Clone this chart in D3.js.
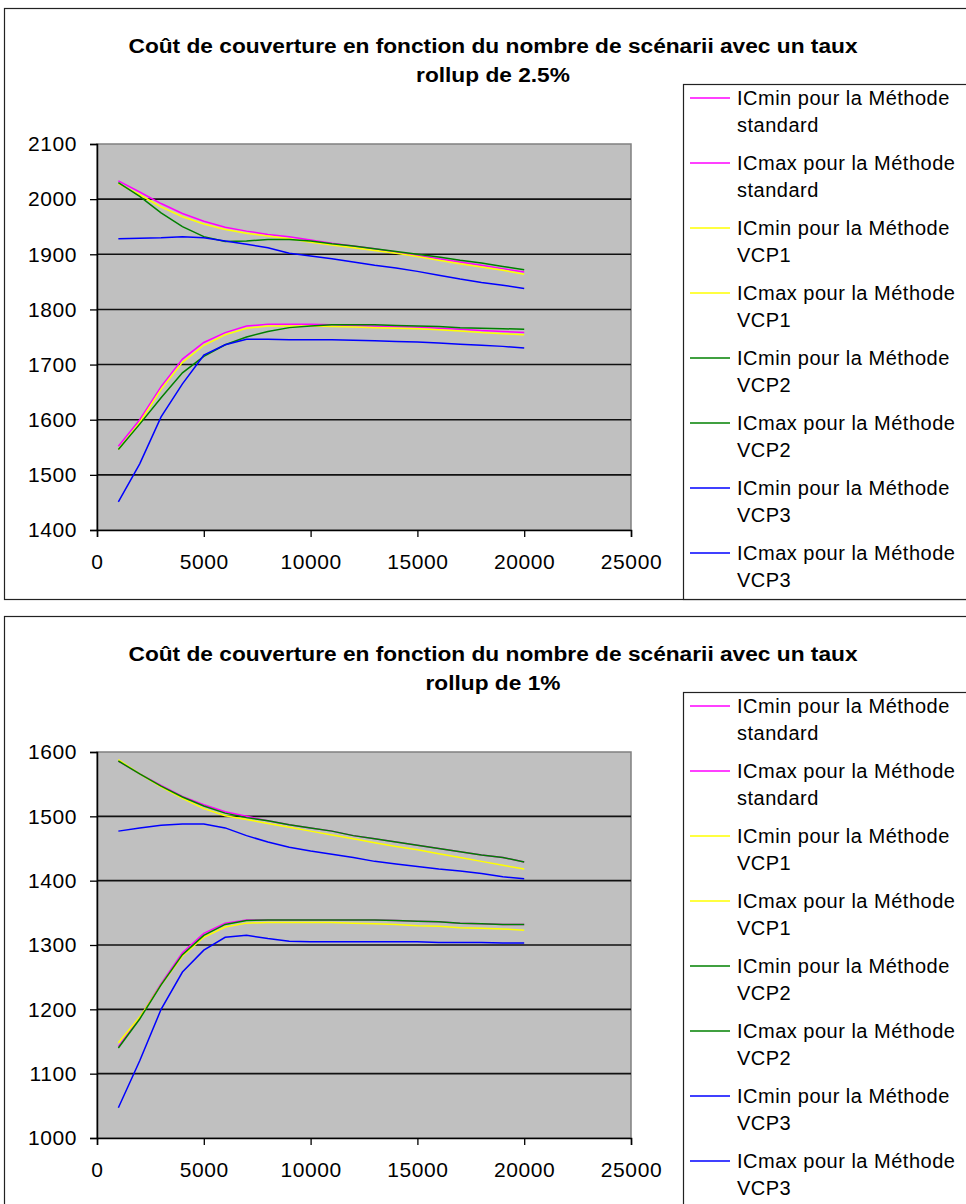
<!DOCTYPE html>
<html>
<head>
<meta charset="utf-8">
<script src="https://cdn.jsdelivr.net/npm/d3@7"></script>
<style>
  body { margin: 0; background: #fff; }
  text { font-family: "Liberation Sans", Arial, sans-serif; fill: #000; }
</style>
</head>
<body>
<svg id="chart" width="966" height="1204"></svg>
<script>
// x values (nombre de scénarii)
const scenarios = [1000, 2000, 3000, 4000, 5000, 6000, 7000, 8000, 9000, 10000,
                   11000, 12000, 13000, 14000, 15000, 16000, 17000, 18000, 19000, 20000];

const legendLabels = [
  ['ICmin pour la Méthode', 'standard'],
  ['ICmax pour la Méthode', 'standard'],
  ['ICmin pour la Méthode', 'VCP1'],
  ['ICmax pour la Méthode', 'VCP1'],
  ['ICmin pour la Méthode', 'VCP2'],
  ['ICmax pour la Méthode', 'VCP2'],
  ['ICmin pour la Méthode', 'VCP3'],
  ['ICmax pour la Méthode', 'VCP3']
];
const seriesColors = ['#ff00ff', '#ff00ff', '#ffff00', '#ffff00', '#008000', '#008000', '#0000ff', '#0000ff'];

const xTicks = [0, 5000, 10000, 15000, 20000, 25000];
const yTicksTop = [1400, 1500, 1600, 1700, 1800, 1900, 2000, 2100];
const yTicksBottom = [1000, 1100, 1200, 1300, 1400, 1500, 1600];

const titleTop = ['Coût de couverture en fonction du nombre de scénarii avec un taux', 'rollup de 2.5%'];
const titleBottom = ['Coût de couverture en fonction du nombre de scénarii avec un taux', 'rollup de 1%'];

// rollup 2.5%
const r25MinStd  = [1552, 1600, 1660, 1710, 1740, 1758, 1770, 1773, 1773, 1773, 1772, 1771, 1770, 1769, 1768, 1766, 1764, 1762, 1760, 1758];
const r25MaxStd  = [2033, 2013, 1992, 1974, 1960, 1949, 1942, 1936, 1932, 1926, 1920, 1915, 1910, 1904, 1898, 1892, 1886, 1880, 1874, 1868];
const r25MinVcp1 = [1546, 1595, 1655, 1704, 1735, 1754, 1766, 1770, 1770, 1770, 1769, 1768, 1767, 1766, 1765, 1763, 1761, 1758, 1756, 1754];
const r25MaxVcp1 = [2028, 2008, 1986, 1968, 1955, 1945, 1938, 1933, 1928, 1922, 1917, 1912, 1907, 1902, 1896, 1889, 1883, 1877, 1871, 1864];
const r25MinVcp2 = [1546, 1592, 1640, 1685, 1715, 1736, 1750, 1760, 1767, 1770, 1772, 1772, 1772, 1771, 1770, 1769, 1767, 1766, 1765, 1764];
const r25MaxVcp2 = [2030, 2005, 1975, 1950, 1932, 1923, 1924, 1927, 1927, 1924, 1919, 1915, 1910, 1905, 1900, 1895, 1889, 1884, 1878, 1872];
const r25MinVcp3 = [1451, 1520, 1605, 1665, 1717, 1736, 1746, 1746, 1745, 1745, 1745, 1744, 1743, 1742, 1741, 1739, 1737, 1735, 1733, 1730];
const r25MaxVcp3 = [1928, 1929, 1930, 1932, 1930, 1924, 1918, 1912, 1902, 1897, 1892, 1886, 1880, 1875, 1869, 1862, 1855, 1849, 1844, 1838];

// rollup 1%
const r1MinStd  = [1142, 1187, 1240, 1288, 1318, 1334, 1339, 1339, 1339, 1339, 1339, 1339, 1339, 1338, 1337, 1336, 1334, 1333, 1332, 1332];
const r1MaxStd  = [1586, 1566, 1548, 1531, 1518, 1507, 1500, 1493, 1487, 1482, 1477, 1470, 1465, 1460, 1455, 1450, 1445, 1440, 1436, 1429];
const r1MinVcp1 = [1148, 1188, 1238, 1283, 1312, 1328, 1334, 1335, 1335, 1335, 1335, 1334, 1333, 1332, 1330, 1329, 1327, 1326, 1325, 1323];
const r1MaxVcp1 = [1588, 1566, 1546, 1528, 1512, 1501, 1495, 1489, 1483, 1477, 1471, 1465, 1459, 1453, 1448, 1442, 1436, 1430, 1424, 1418];
const r1MinVcp2 = [1140, 1185, 1238, 1285, 1315, 1332, 1338, 1339, 1339, 1339, 1339, 1339, 1339, 1338, 1337, 1336, 1334, 1333, 1332, 1332];
const r1MaxVcp2 = [1586, 1566, 1547, 1530, 1516, 1505, 1498, 1493, 1487, 1482, 1477, 1470, 1465, 1460, 1455, 1450, 1445, 1440, 1436, 1429];
const r1MinVcp3 = [1047, 1120, 1200, 1258, 1292, 1312, 1315, 1310, 1306, 1305, 1305, 1305, 1305, 1305, 1305, 1304, 1304, 1304, 1303, 1303];
const r1MaxVcp3 = [1477, 1482, 1486, 1488, 1488, 1482, 1470, 1460, 1452, 1446, 1441, 1436, 1430, 1426, 1422, 1418, 1415, 1411, 1406, 1403];

const svg = d3.select('#chart');

function drawChart(oy, title, yTicks, series) {
  const g = svg.append('g').attr('transform', `translate(0,${oy})`);
  const plot = { left: 97, right: 631, top: 136, bottom: 522 };
  const frameH = 591;

  // frame
  g.append('rect')
    .attr('x', 4.5).attr('y', 0.5)
    .attr('width', 1000).attr('height', frameH)
    .attr('fill', '#fff').attr('stroke', '#222').attr('stroke-width', 1.2);

  const x = d3.scaleLinear().domain([0, 25000]).range([plot.left, plot.right]);
  const y = d3.scaleLinear().domain(d3.extent(yTicks)).range([plot.bottom, plot.top]);

  // plot background
  g.append('rect')
    .attr('x', plot.left).attr('y', plot.top)
    .attr('width', plot.right - plot.left).attr('height', plot.bottom - plot.top)
    .attr('fill', '#c0c0c0').attr('stroke', '#808080').attr('stroke-width', 1.5);

  // grid lines
  g.append('g').selectAll('line')
    .data(yTicks.slice(1, -1))
    .enter().append('line')
    .attr('x1', plot.left).attr('x2', plot.right)
    .attr('y1', d => y(d)).attr('y2', d => y(d))
    .attr('stroke', '#111').attr('stroke-width', 1.6);

  // axes
  const yAxis = g.append('g')
    .attr('transform', `translate(${plot.left},0)`)
    .call(d3.axisLeft(y).tickValues(yTicks).tickSize(7).tickPadding(13).tickFormat(d3.format('d')));
  const xAxis = g.append('g')
    .attr('transform', `translate(0,${plot.bottom})`)
    .call(d3.axisBottom(x).tickValues(xTicks).tickSize(7).tickPadding(17).tickFormat(d3.format('d')));
  [yAxis, xAxis].forEach(a => {
    a.select('.domain').attr('stroke', '#000').attr('stroke-width', 1.5);
    a.selectAll('.tick line').attr('stroke', '#000').attr('stroke-width', 1.3);
    a.selectAll('.tick text')
      .attr('font-size', 21)
      .attr('letter-spacing', 0.6)
      .attr('fill', '#222')
      .style('font-family', '"Liberation Sans", Arial, sans-serif');
  });

  // series lines
  const line = d3.line()
    .x((d, i) => x(scenarios[i]))
    .y(d => y(d));
  g.append('g').selectAll('path')
    .data(series)
    .enter().append('path')
    .attr('d', d => line(d))
    .attr('fill', 'none')
    .attr('stroke', (d, i) => seriesColors[i])
    .attr('stroke-width', 1.5);

  // title
  const t1 = g.append('text')
    .attr('x', 493).attr('y', 45)
    .attr('text-anchor', 'middle')
    .attr('font-size', 20).attr('font-weight', 'bold')
    .text(title[0]);
  const ratio = 729 / t1.node().getComputedTextLength();
  t1.attr('textLength', 729).attr('lengthAdjust', 'spacingAndGlyphs');
  const t2 = g.append('text')
    .attr('x', 493).attr('y', 74)
    .attr('text-anchor', 'middle')
    .attr('font-size', 20).attr('font-weight', 'bold')
    .text(title[1]);
  t2.attr('textLength', t2.node().getComputedTextLength() * ratio).attr('lengthAdjust', 'spacingAndGlyphs');

  // legend
  g.append('rect')
    .attr('x', 683.5).attr('y', 76.5)
    .attr('width', 400).attr('height', frameH - 76)
    .attr('fill', '#fff').attr('stroke', '#222').attr('stroke-width', 1.2);
  const items = g.append('g').selectAll('g')
    .data(legendLabels)
    .enter().append('g')
    .attr('transform', (d, i) => `translate(0,${90 + i * 65})`);
  items.append('line')
    .attr('x1', 690).attr('x2', 730)
    .attr('stroke', (d, i) => seriesColors[i])
    .attr('stroke-width', 1.5);
  items.append('text')
    .attr('x', 737).attr('y', 7)
    .attr('font-size', 20).attr('letter-spacing', 0.5)
    .attr('fill', '#222')
    .text(d => d[0]);
  items.append('text')
    .attr('x', 737).attr('y', 34)
    .attr('font-size', 20).attr('letter-spacing', 0.5)
    .attr('fill', '#222')
    .text(d => d[1]);
}

drawChart(8, titleTop, yTicksTop,
  [r25MinStd, r25MaxStd, r25MinVcp1, r25MaxVcp1, r25MinVcp2, r25MaxVcp2, r25MinVcp3, r25MaxVcp3]);
drawChart(616, titleBottom, yTicksBottom,
  [r1MinStd, r1MaxStd, r1MinVcp1, r1MaxVcp1, r1MinVcp2, r1MaxVcp2, r1MinVcp3, r1MaxVcp3]);
</script>
</body>
</html>
